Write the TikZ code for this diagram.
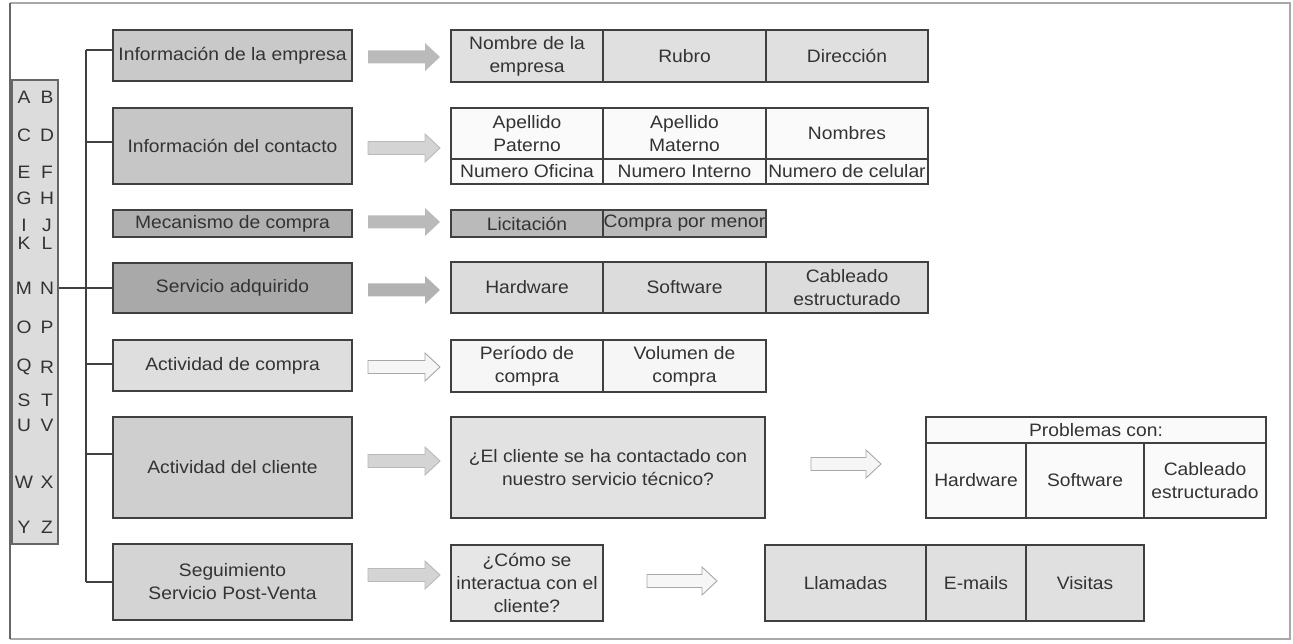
\documentclass[tikz,border=0pt]{standalone}
\usepackage{fontspec}
\setmainfont{Liberation Sans}[FakeStretch=1.07]
\definecolor{txt}{HTML}{333333}
\definecolor{bord}{HTML}{404040}
\definecolor{frame}{HTML}{A8A8A8}
\definecolor{gA}{HTML}{C9C9C9}
\definecolor{gB}{HTML}{C6C6C6}
\definecolor{gC}{HTML}{B0B0B0}
\definecolor{gD}{HTML}{A9A9A9}
\definecolor{gE}{HTML}{DEDEDE}
\definecolor{gF}{HTML}{CFCFCF}
\definecolor{gG}{HTML}{D4D4D4}
\definecolor{tA}{HTML}{E0E0E0}
\definecolor{tB}{HTML}{FAFAFA}
\definecolor{tC}{HTML}{BABABA}
\definecolor{tD}{HTML}{DCDCDC}
\definecolor{tE}{HTML}{F6F6F6}
\definecolor{tF}{HTML}{E2E2E2}
\definecolor{tG}{HTML}{E6E6E6}
\definecolor{lett}{HTML}{DCDCDC}
\newcommand{\blkarrow}[4]{\path[#4] (#1,#3-6.5) -- (#2-15,#3-6.5) -- (#2-15,#3-14) -- (#2,#3) -- (#2-15,#3+14) -- (#2-15,#3+6.5) -- (#1,#3+6.5) -- cycle;}
\begin{document}
\begin{tikzpicture}[x=1pt,y=-1pt,
  every node/.style={font=\fontsize{18}{23}\selectfont, text=txt},
  lbox/.style={draw=bord, line width=1.3pt, minimum width=239, align=center, inner sep=1pt},
  cell/.style={draw=bord, line width=1.2pt, align=center, inner sep=1pt},
  letter/.style={inner sep=0pt},
  conn/.style={draw=bord, line width=1.4pt},
  solidarr/.style={fill=#1},
  lightarr/.style={fill=#1, draw=frame, line width=0.9pt},
  gradarr/.style={fill=#1, draw=gray!55, line width=0.9pt}]
\useasboundingbox (0,0) rectangle (1293,644);
% outer frame
\draw[frame, line width=1.2pt] (10,3) -- (1290,3) -- (1290,639) -- (10,639);
\draw[bord!80, line width=1.3pt] (10,3) -- (10,639);
% letter column
\node[draw=bord!80, line width=1.2pt, fill=lett, minimum width=46, minimum height=464, inner sep=0pt] (letters) at (35,312) {};
\foreach \a/\b/\yy in {A/B/97, C/D/135, E/F/172, G/H/198, I/J/225, K/L/243, M/N/288, O/P/327, Q/R/367, S/T/400, U/V/425, W/X/482, Y/Z/527}{
  \node[letter] (l\a) at (24,\yy) {\a};
  \node[letter] (l\b) at (47,\yy) {\b};
}
% left boxes
\node[lbox, fill=gA, minimum height=51] (b1) at (232.5,55.5) {Información de la empresa};
\node[lbox, fill=gB, minimum height=76] (b2) at (232.5,146) {Información del contacto};
\node[lbox, fill=gC, minimum height=27] (b3) at (232.5,223.5) {Mecanismo de compra};
\node[lbox, fill=gD, minimum height=50] (b4) at (232.5,288) {Servicio adquirido};
\node[lbox, fill=gE, minimum height=51] (b5) at (232.5,365.5) {Actividad de compra};
\node[lbox, fill=gF, minimum height=101] (b6) at (232.5,467.5) {Actividad del cliente};
\node[lbox, fill=gG, minimum height=76] (b7) at (232.5,582) {Seguimiento\\Servicio Post-Venta};
% tree
\coordinate (t1) at (86,50);
\coordinate (t2) at (86,142);
\coordinate (t4) at (86,288);
\coordinate (t5) at (86,364);
\coordinate (t6) at (86,454);
\coordinate (t7) at (86,582);
\draw[conn] (t1) -- (t7);
\draw[conn] (t1) -- (t1 -| b1.west);
\draw[conn] (t2) -- (t2 -| b2.west);
\draw[conn] (letters.east |- b4.west) -- (b4.west);
\draw[conn] (t5) -- (t5 -| b5.west);
\draw[conn] (t6) -- (t6 -| b6.west);
\draw[conn] (t7) -- (t7 -| b7.west);
% arrows from left boxes
\blkarrow{368}{440}{57}{solidarr=tC}
\blkarrow{368}{440}{148}{gradarr=gG}
\blkarrow{368}{440}{222}{solidarr=tC}
\blkarrow{368}{440}{290}{solidarr=gD!90!white}
\blkarrow{368}{440}{367}{lightarr=tE}
\blkarrow{368}{440}{461}{gradarr=gG}
\blkarrow{368}{440}{575}{gradarr=gG}
\blkarrow{811}{881}{464}{lightarr=tE}
\blkarrow{647}{717}{581}{lightarr=tE}
% row 1
\node[cell, fill=tA, minimum width=152, minimum height=52] (r1a) at (527,56) {Nombre de la\\empresa};
\node[cell, fill=tA, minimum width=163, minimum height=52] (r1b) at (684.5,56) {Rubro};
\node[cell, fill=tA, minimum width=162, minimum height=52] (r1c) at (847,56) {Dirección};
% row 2
\node[cell, fill=tB, minimum width=152, minimum height=51] (r2a) at (527,133.5) {Apellido\\Paterno};
\node[cell, fill=tB, minimum width=163, minimum height=51] (r2b) at (684.5,133.5) {Apellido\\Materno};
\node[cell, fill=tB, minimum width=162, minimum height=51] (r2c) at (847,133.5) {Nombres};
\node[cell, fill=tB, minimum width=152, minimum height=25] (r2d) at (527,171.5) {Numero Oficina};
\node[cell, fill=tB, minimum width=163, minimum height=25] (r2e) at (684.5,171.5) {Numero Interno};
\node[cell, fill=tB, minimum width=162, minimum height=25, inner sep=0pt] (r2f) at (847,171.5) {Numero de celular};
% row 3
\node[cell, fill=tC, minimum width=152, minimum height=27] (r3a) at (527,223.5) {Licitación};
\node[cell, fill=tC, minimum width=163, minimum height=27, inner sep=0pt] (r3b) at (684.5,223.5) {Compra por menor};
% row 4
\node[cell, fill=tD, minimum width=152, minimum height=51] (r4a) at (527,287.5) {Hardware};
\node[cell, fill=tD, minimum width=163, minimum height=51] (r4b) at (684.5,287.5) {Software};
\node[cell, fill=tD, minimum width=162, minimum height=51] (r4c) at (847,287.5) {Cableado\\estructurado};
% row 5
\node[cell, fill=tE, minimum width=152, minimum height=52] (r5a) at (527,366) {Período de\\compra};
\node[cell, fill=tE, minimum width=163, minimum height=52] (r5b) at (684.5,366) {Volumen de\\compra};
% row 6
\node[cell, fill=tF, minimum width=314, minimum height=101] (q6) at (608,467.5) {¿El cliente se ha contactado con\\nuestro servicio técnico?};
\node[cell, fill=tB, minimum width=340, minimum height=26] (p6) at (1096,430) {Problemas con:};
\node[cell, fill=tB, minimum width=100, minimum height=75] (p6a) at (976,480.5) {Hardware};
\node[cell, fill=tB, minimum width=118, minimum height=75] (p6b) at (1085,480.5) {Software};
\node[cell, fill=tB, minimum width=122, minimum height=75] (p6c) at (1205,480.5) {Cableado\\estructurado};
% row 7
\node[cell, fill=tG, minimum width=152, minimum height=76] (q7) at (527,583) {¿Cómo se\\interactua con el\\cliente?};
\node[cell, fill=tA, minimum width=161, minimum height=76] (s7a) at (845.5,583) {Llamadas};
\node[cell, fill=tA, minimum width=100, minimum height=76] (s7b) at (976,583) {E-mails};
\node[cell, fill=tA, minimum width=118, minimum height=76] (s7c) at (1085,583) {Visitas};
\end{tikzpicture}
\end{document}
